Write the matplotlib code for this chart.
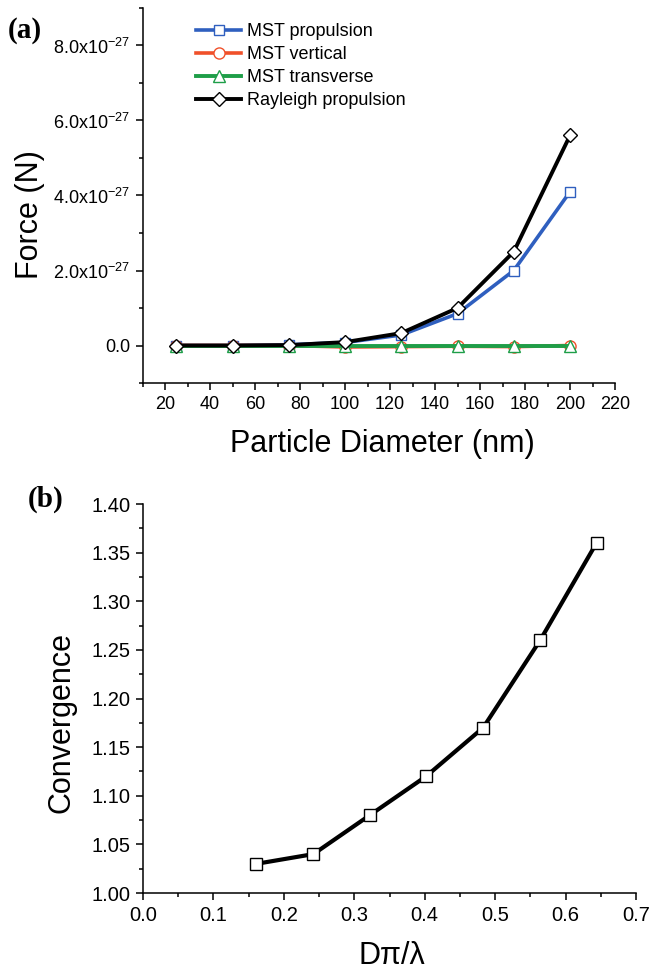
import numpy as np
import matplotlib
matplotlib.use("Agg")
import matplotlib.pyplot as plt
from matplotlib.ticker import MultipleLocator, FuncFormatter

plt.rcParams['font.family'] = ['Liberation Sans', 'DejaVu Sans']
plt.rcParams['mathtext.default'] = 'regular'

# ---- Data ---------------------------------------------------------------
# (a) forces in units of 1e-27 N
diameter_nm = [25, 50, 75, 100, 125, 150, 175, 200]
mst_propulsion = [0.0, 0.0, 0.02, 0.08, 0.28, 0.85, 2.0, 4.1]
mst_vertical = [0.0, 0.0, 0.0, -0.04, -0.03, -0.02, -0.03, 0.0]
mst_transverse = [0.0, 0.0, 0.0, 0.0, 0.0, 0.0, 0.0, 0.0]
rayleigh_propulsion = [0.0, 0.0, 0.01, 0.09, 0.33, 1.0, 2.5, 5.6]

# (b) convergence vs size parameter
size_param = [0.161, 0.242, 0.322, 0.402, 0.483, 0.564, 0.644]
convergence = [1.03, 1.04, 1.08, 1.12, 1.17, 1.26, 1.36]

W, H = 651, 971
fig = plt.figure(figsize=(W / 100, H / 100), dpi=100)


def style_axes(ax, labelsize):
    for s in ("top", "right"):
        ax.spines[s].set_visible(False)
    for s in ("left", "bottom"):
        ax.spines[s].set_linewidth(1.1)
    ax.tick_params(which="major", direction="out", length=5, width=1.1,
                   labelsize=labelsize, pad=4)
    ax.tick_params(which="minor", direction="out", length=3, width=1.1)


# ---- (a) ----------------------------------------------------------------
ax1 = fig.add_axes([142.5 / W, 1 - 383 / H, (615 - 142.5) / W, (383 - 8) / H])
ax1.plot(diameter_nm, mst_propulsion, color="#2f5fbf", lw=2.6, marker="s",
         ms=6.5, mfc="white", mec="#2f5fbf", mew=1.0, label="MST propulsion")
ax1.plot(diameter_nm, mst_vertical, color="#f0502a", lw=2.6, marker="o",
         ms=8, mfc="white", mec="#f0502a", mew=1.0, label="MST vertical")
ax1.plot(diameter_nm, mst_transverse, color="#1e9e48", lw=2.8, marker="^",
         ms=9, mfc="white", mec="#1e9e48", mew=1.0, label="MST transverse")
ax1.plot(diameter_nm, rayleigh_propulsion, color="black", lw=2.8, marker="D",
         ms=7.5, mfc="white", mec="black", mew=1.0, label="Rayleigh propulsion")

ax1.set_xlim(10, 220)
ax1.set_ylim(-1, 9)
ax1.xaxis.set_major_locator(MultipleLocator(20))
ax1.xaxis.set_minor_locator(MultipleLocator(10))
ax1.yaxis.set_major_locator(MultipleLocator(2))
ax1.yaxis.set_minor_locator(MultipleLocator(1))


def force_fmt(v, pos):
    if abs(v) < 1e-9:
        return "0.0"
    return f"{v:.1f}x10$^{{-27}}$"


ax1.yaxis.set_major_formatter(FuncFormatter(force_fmt))
style_axes(ax1, 13)
ax1.set_xlabel("Particle Diameter (nm)", fontsize=22)
ax1.set_ylabel("Force (N)", fontsize=22)
# xlabel anchored at its top, ylabel at its right edge
ax1.xaxis.set_label_coords((382 - 142.5) / (615 - 142.5), -(429 - 383) / 375)
ax1.yaxis.set_label_coords((45 - 142.5) / (615 - 142.5), (383 - 215) / 375)

ax1.legend(loc="upper left", bbox_to_anchor=((196 - 142.5) / 472.5, (383 - 23) / 375),
           frameon=False, fontsize=13, handlelength=2.5, handletextpad=0.3,
           labelspacing=0.33, borderpad=0, borderaxespad=0)

fig.text(25 / W, 1 - 30 / H, "(a)", fontsize=21, fontweight="bold",
         family="Liberation Serif", ha="center", va="center")

# ---- (b) ----------------------------------------------------------------
ax2 = fig.add_axes([143 / W, 1 - 893 / H, (636 - 143) / W, (893 - 504) / H])
ax2.plot(size_param, convergence, color="black", lw=3.0, marker="s",
         ms=8, mfc="white", mec="black", mew=1.0)
ax2.set_xlim(0, 0.7)
ax2.set_ylim(1.0, 1.4)
ax2.xaxis.set_major_locator(MultipleLocator(0.1))
ax2.xaxis.set_minor_locator(MultipleLocator(0.05))
ax2.yaxis.set_major_locator(MultipleLocator(0.05))
ax2.yaxis.set_minor_locator(MultipleLocator(0.025))
ax2.xaxis.set_major_formatter(FuncFormatter(lambda v, p: f"{v:.1f}"))
ax2.yaxis.set_major_formatter(FuncFormatter(lambda v, p: f"{v:.2f}"))
style_axes(ax2, 14.5)
ax2.set_xlabel("D\u03c0/\u03bb", fontsize=22)
ax2.set_ylabel("Convergence", fontsize=22)
ax2.xaxis.set_label_coords((392 - 143) / (636 - 143), -(941 - 893) / 389)
ax2.yaxis.set_label_coords((76 - 143) / (636 - 143), (893 - 722) / 389)

fig.text(46 / W, 1 - 499 / H, "(b)", fontsize=21, fontweight="bold",
         family="Liberation Serif", ha="center", va="center")

fig.savefig("out.png", dpi=100)
